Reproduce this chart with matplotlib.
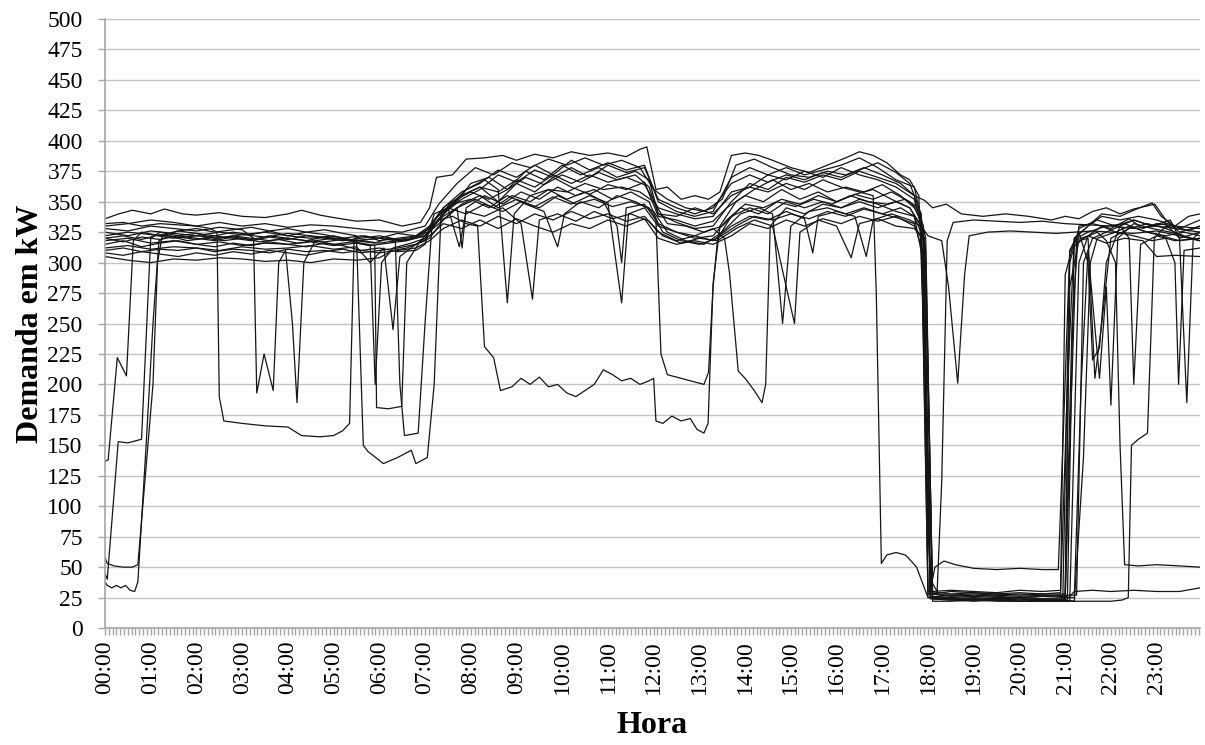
import numpy as np
import matplotlib
matplotlib.use("Agg")
import matplotlib.pyplot as plt
from matplotlib.ticker import MultipleLocator

# demand curves (hour, kW), one list per day
s01 = [(0, 336), (0.3, 340), (0.6, 343), (1, 340), (1.3, 344), (1.7, 340), (2, 339), (2.5, 341), (3, 338),
       (3.5, 337), (4, 340), (4.3, 343), (4.7, 339), (5, 337), (5.5, 334), (6, 335), (6.5, 330), (6.9, 333),
       (7.1, 345), (7.25, 370), (7.6, 372), (7.9, 385), (8.3, 386), (8.7, 388), (9, 384), (9.4, 389), (9.8, 386),
       (10.2, 391), (10.6, 388), (11, 390), (11.4, 387), (11.7, 393), (11.85, 395), (12.05, 360), (12.3, 362),
       (12.6, 352), (12.9, 355), (13.2, 352), (13.45, 358), (13.7, 388), (14, 390), (14.3, 388), (14.6, 384),
       (15, 378), (15.4, 374), (15.8, 380), (16.2, 386), (16.5, 391), (16.8, 388), (17.1, 382), (17.4, 372),
       (17.6, 368), (17.8, 355), (17.95, 200), (18.1, 28), (18.5, 30), (19, 29), (19.5, 28), (20, 29),
       (20.5, 28), (20.9, 29), (21.05, 200), (21.2, 320), (21.5, 330), (21.8, 340), (22.2, 338), (22.5, 343),
       (22.9, 349), (23.1, 338), (23.4, 330), (23.7, 338), (23.95, 340)]
s02 = [(0, 332), (0.4, 333), (0.8, 330), (1.2, 332), (1.6, 331), (2, 330), (2.3, 328), (2.45, 325), (2.5, 190),
       (2.6, 170), (3, 168), (3.5, 166), (4, 165), (4.3, 158), (4.7, 157), (5, 158), (5.2, 162), (5.35, 168),
       (5.45, 320), (5.7, 322), (6, 318), (6.4, 320), (6.8, 322), (7.1, 330), (7.4, 345), (7.8, 355), (8.2, 362),
       (8.6, 350), (9, 365), (9.4, 358), (9.8, 370), (10.2, 362), (10.6, 356), (11, 364), (11.4, 360),
       (11.8, 366), (12.1, 338), (12.5, 335), (12.9, 330), (13.3, 334), (13.6, 345), (14, 355), (14.4, 350),
       (14.8, 360), (15.2, 352), (15.6, 358), (16, 350), (16.4, 356), (16.8, 360), (17.2, 352), (17.6, 345),
       (17.85, 330), (18.0, 80), (18.1, 25), (18.6, 24), (19, 23), (19.5, 24), (20, 23), (20.5, 24), (21.0, 23),
       (21.1, 150), (21.25, 320), (21.5, 325), (21.9, 330), (22.3, 332), (22.7, 326), (23.1, 322), (23.5, 318),
       (23.95, 320)]
s03 = [(0, 328), (0.5, 326), (1, 330), (1.5, 328), (2, 326), (2.5, 329), (3, 327), (3.25, 320), (3.32, 193),
       (3.48, 225), (3.68, 195), (3.8, 300), (3.95, 310), (4.1, 250), (4.2, 185), (4.35, 300), (4.6, 318),
       (5, 320), (5.5, 318), (5.9, 316), (6.2, 320), (6.6, 318), (7, 325), (7.3, 340), (7.7, 350), (8, 365),
       (8.4, 370), (8.8, 360), (9.2, 375), (9.6, 368), (10, 380), (10.4, 372), (10.8, 378), (11.2, 370),
       (11.6, 375), (11.9, 368), (12.1, 340), (12.5, 333), (12.9, 328), (13.3, 330), (13.7, 350), (14.1, 365),
       (14.5, 360), (14.9, 370), (15.3, 366), (15.7, 372), (16.1, 368), (16.5, 375), (16.9, 370), (17.3, 365),
       (17.7, 355), (17.9, 320), (18.05, 28), (18.5, 26), (19, 27), (19.5, 26), (20, 25), (20.5, 26),
       (20.95, 27), (21.1, 310), (21.3, 325), (21.5, 300), (21.6, 220), (21.75, 230), (21.9, 300), (22.2, 330),
       (22.5, 335), (22.9, 330), (23.2, 332), (23.5, 320), (23.95, 325)]
s04 = [(0, 137), (0.07, 138), (0.27, 222), (0.47, 207), (0.62, 318), (0.8, 325), (1.2, 322), (1.6, 326),
       (2, 324), (2.4, 322), (2.8, 325), (3.2, 323), (3.6, 326), (4, 322), (4.4, 325), (4.8, 323), (5.2, 320),
       (5.6, 322), (6, 320), (6.4, 324), (6.8, 322), (7.1, 328), (7.4, 338), (7.7, 345), (7.81, 312), (7.9, 345),
       (8.3, 355), (8.7, 348), (9.1, 358), (9.5, 352), (9.9, 362), (10.3, 355), (10.7, 360), (11.1, 352),
       (11.5, 358), (11.9, 350), (12.1, 332), (12.5, 325), (12.9, 320), (13.3, 322), (13.6, 335), (14, 348),
       (14.4, 345), (14.8, 352), (15.2, 348), (15.6, 355), (16, 350), (16.4, 356), (16.8, 352), (17.2, 358),
       (17.6, 350), (17.85, 340), (18.0, 30), (18.5, 28), (19, 29), (19.5, 28), (20, 27), (20.5, 28), (21, 28),
       (21.1, 280), (21.3, 318), (21.5, 320), (21.65, 205), (21.8, 250), (22, 320), (22.4, 328), (22.8, 332),
       (23.2, 328), (23.6, 322), (23.95, 318)]
s05 = [(0, 38), (0.05, 35), (0.15, 33), (0.25, 35), (0.35, 33), (0.45, 35), (0.55, 31), (0.65, 30), (0.72, 38),
       (0.9, 150), (1.05, 250), (1.18, 318), (1.4, 322), (1.8, 318), (2.2, 320), (2.6, 318), (3, 320),
       (3.4, 317), (3.8, 319), (4.2, 316), (4.6, 318), (5, 315), (5.4, 317), (5.8, 314), (6.2, 316), (6.6, 318),
       (7, 322), (7.3, 335), (7.6, 348), (8, 352), (8.4, 345), (8.8, 355), (9.2, 348), (9.6, 342), (9.9, 313),
       (10.05, 340), (10.4, 350), (10.8, 345), (11.2, 355), (11.6, 350), (12, 342), (12.3, 325), (12.7, 318),
       (13.1, 315), (13.5, 325), (13.9, 340), (14.3, 345), (14.6, 340), (14.82, 250), (15, 330), (15.4, 342),
       (15.8, 345), (16.2, 340), (16.6, 345), (17, 340), (17.4, 345), (17.7, 338), (17.9, 300), (18.05, 25),
       (18.5, 24), (19, 23), (19.5, 24), (20, 24), (20.5, 23), (21, 23), (21.2, 22), (21.4, 140), (21.55, 300),
       (21.7, 320), (22.1, 325), (22.5, 322), (22.9, 318), (23.2, 320), (23.4, 300), (23.48, 200), (23.6, 310),
       (23.95, 312)]
s06 = [(0, 58), (0.05, 53), (0.2, 51), (0.4, 50), (0.6, 50), (0.72, 52), (0.95, 155), (1.05, 200), (1.15, 300),
       (1.25, 322), (1.6, 326), (2, 328), (2.4, 325), (2.8, 327), (3.2, 329), (3.6, 326), (4, 328), (4.4, 325),
       (4.8, 327), (5.2, 324), (5.5, 322), (5.65, 150), (5.75, 145), (6.09, 135), (6.4, 140), (6.7, 146),
       (6.8, 135), (7.05, 140), (7.2, 200), (7.35, 340), (7.6, 350), (8, 358), (8.4, 352), (8.8, 360), (9.2, 370),
       (9.6, 364), (10, 372), (10.4, 366), (10.8, 374), (11.2, 368), (11.6, 372), (11.9, 362), (12.1, 340),
       (12.5, 338), (12.9, 345), (13.3, 340), (13.7, 355), (14.1, 362), (14.5, 372), (14.9, 368), (15.3, 375),
       (15.7, 370), (16.1, 378), (16.5, 372), (16.9, 368), (17.3, 362), (17.7, 352), (17.92, 320), (18.1, 25),
       (18.5, 24), (19, 25), (19.5, 24), (20, 25), (20.5, 24), (21, 24), (21.15, 250), (21.3, 330), (21.6, 332),
       (22, 328), (22.4, 336), (22.7, 328), (23, 332), (23.4, 330), (23.7, 326), (23.95, 330)]
s07 = [(0, 45), (0.05, 40), (0.29, 153), (0.5, 152), (0.8, 155), (1.0, 320), (1.2, 325), (1.6, 322), (2, 324),
       (2.4, 320), (2.8, 322), (3.2, 320), (3.6, 318), (4, 320), (4.4, 318), (4.8, 317), (5.2, 319), (5.6, 316),
       (5.9, 314), (5.94, 181), (6.2, 180), (6.49, 182), (6.6, 300), (6.9, 318), (7.2, 330), (7.5, 345),
       (7.9, 360), (8.3, 368), (8.6, 360), (8.8, 267), (8.95, 340), (9.3, 355), (9.7, 360), (10.1, 358),
       (10.5, 365), (10.9, 360), (11.3, 362), (11.7, 358), (12, 350), (12.3, 332), (12.7, 330), (13.1, 325),
       (13.5, 330), (13.9, 345), (14.3, 340), (14.7, 350), (15.1, 346), (15.5, 352), (15.9, 348), (16.3, 355),
       (16.7, 350), (17.1, 348), (17.5, 352), (17.8, 345), (17.95, 310), (18.1, 24), (18.5, 23), (19, 24),
       (19.5, 23), (20, 22), (20.5, 23), (21, 22), (21.1, 22), (21.3, 300), (21.5, 322), (21.8, 330),
       (22.1, 325), (22.4, 330), (22.8, 325), (23.2, 322), (23.6, 325), (23.95, 322)]
s08 = [(0, 305), (0.5, 302), (1, 300), (1.5, 303), (2, 302), (2.5, 304), (3, 303), (3.5, 301), (4, 302),
       (4.5, 300), (5, 303), (5.5, 302), (6, 304), (6.3, 310), (6.6, 312), (7, 318), (7.2, 335), (7.5, 345),
       (7.9, 340), (8.3, 348), (8.7, 342), (9.1, 350), (9.5, 345), (9.9, 355), (10.3, 348), (10.7, 352),
       (11.1, 346), (11.5, 350), (11.9, 345), (12.2, 325), (12.6, 318), (13, 315), (13.4, 320), (13.8, 330),
       (14.2, 338), (14.6, 335), (15, 340), (15.4, 336), (15.8, 342), (16.2, 338), (16.6, 344), (17, 340),
       (17.4, 336), (17.7, 332), (17.95, 300), (18.1, 30), (18.5, 31), (19, 30), (19.5, 29), (20, 31),
       (20.5, 30), (20.9, 31), (21.0, 290), (21.2, 318), (21.5, 322), (21.9, 316), (22.3, 320), (22.7, 318),
       (23, 305), (23.4, 306), (23.95, 305)]
s09 = [(0, 318), (0.5, 320), (1, 316), (1.5, 318), (2, 315), (2.5, 317), (3, 314), (3.5, 316), (4, 315),
       (4.5, 317), (5, 314), (5.5, 316), (5.8, 314), (5.91, 200), (6.05, 300), (6.3, 312), (6.7, 316), (7, 320),
       (7.3, 335), (7.6, 338), (7.9, 332), (8.15, 330), (8.3, 231), (8.5, 222), (8.65, 195), (8.9, 198),
       (9.1, 205), (9.3, 200), (9.5, 206), (9.7, 198), (9.9, 200), (10.1, 193), (10.3, 190), (10.5, 195),
       (10.7, 200), (10.9, 212), (11.1, 208), (11.3, 203), (11.5, 205), (11.7, 200), (11.9, 203), (12.0, 205),
       (12.05, 170), (12.2, 168), (12.4, 174), (12.6, 170), (12.8, 172), (12.95, 163), (13.1, 160),
       (13.19, 168), (13.3, 283), (13.45, 330), (13.8, 350), (14.2, 360), (14.6, 368), (15, 360), (15.4, 365),
       (15.8, 358), (16.2, 362), (16.6, 358), (17, 364), (17.4, 355), (17.7, 345), (17.9, 330), (18.0, 28),
       (18.5, 27), (19, 28), (19.5, 27), (20, 28), (20.5, 27), (21, 27), (21.25, 27), (21.4, 300), (21.6, 320),
       (21.9, 325), (22.2, 330), (22.4, 320), (22.5, 200), (22.65, 315), (23, 322), (23.4, 318), (23.95, 320)]
s10 = [(0, 322), (0.5, 325), (1, 323), (1.5, 320), (2, 322), (2.5, 320), (3, 323), (3.5, 321), (4, 324),
       (4.5, 322), (5, 320), (5.5, 318), (6, 320), (6.5, 318), (7, 322), (7.3, 332), (7.7, 345), (8.1, 352),
       (8.5, 345), (8.9, 355), (9.3, 350), (9.7, 360), (10.1, 352), (10.5, 358), (10.9, 350), (11.2, 330),
       (11.3, 300), (11.4, 345), (11.8, 348), (12.05, 335), (12.16, 225), (12.3, 208), (12.6, 205), (12.9, 202),
       (13.1, 200), (13.2, 210), (13.3, 280), (13.4, 320), (13.7, 338), (14.1, 345), (14.5, 340), (14.9, 350),
       (15.3, 345), (15.7, 350), (16.1, 345), (16.5, 352), (16.9, 348), (17.3, 342), (17.7, 338), (17.9, 320),
       (18.05, 26), (18.5, 25), (19, 26), (19.5, 25), (20, 25), (20.5, 26), (21, 25), (21.2, 25), (21.35, 200),
       (21.5, 310), (21.75, 205), (21.9, 280), (22.0, 183), (22.15, 320), (22.5, 332), (22.9, 328),
       (23.3, 325), (23.7, 320), (23.95, 318)]
s11 = [(0, 312), (0.5, 314), (1, 311), (1.5, 313), (2, 312), (2.5, 310), (3, 313), (3.5, 311), (4, 312),
       (4.5, 314), (5, 311), (5.5, 313), (5.8, 300), (6.1, 312), (6.3, 245), (6.45, 305), (6.8, 315), (7.1, 320),
       (7.4, 335), (7.8, 348), (8.2, 355), (8.6, 345), (9, 352), (9.4, 346), (9.8, 354), (10.2, 348), (10.6, 355),
       (11, 349), (11.3, 267), (11.45, 340), (11.8, 345), (12.1, 330), (12.5, 325), (12.9, 322), (13.3, 328),
       (13.55, 320), (13.66, 291), (13.85, 211), (14.0, 205), (14.2, 195), (14.37, 185), (14.45, 200),
       (14.55, 330), (14.9, 345), (15.3, 340), (15.7, 348), (16.1, 345), (16.5, 350), (16.9, 345), (17.3, 350),
       (17.6, 345), (17.85, 330), (18.0, 25), (18.5, 24), (19, 24), (19.5, 23), (20, 24), (20.5, 23), (21, 23),
       (21.1, 300), (21.3, 328), (21.7, 335), (22.1, 330), (22.5, 335), (22.9, 330), (23.3, 335), (23.5, 320),
       (23.66, 185), (23.8, 320), (23.95, 325)]
s12 = [(0, 325), (0.5, 322), (1, 326), (1.5, 324), (2, 322), (2.5, 325), (3, 323), (3.5, 325), (4, 322),
       (4.5, 320), (5, 322), (5.5, 318), (6, 320), (6.35, 318), (6.45, 200), (6.55, 158), (6.85, 160),
       (7.0, 250), (7.15, 330), (7.4, 340), (7.8, 355), (8.2, 362), (8.6, 358), (9, 368), (9.4, 362), (9.8, 372),
       (10.2, 365), (10.6, 372), (11, 366), (11.4, 370), (11.8, 364), (12.1, 345), (12.5, 340), (12.9, 336),
       (13.3, 338), (13.7, 358), (14.1, 362), (14.5, 358), (14.9, 365), (15.3, 360), (15.7, 368), (16.1, 362),
       (16.5, 358), (16.8, 355), (16.87, 273), (16.98, 53), (17.1, 60), (17.3, 62), (17.5, 60), (17.56, 58),
       (17.75, 50), (18.0, 25), (18.5, 27), (19, 26), (19.5, 27), (20, 26), (20.5, 27), (20.9, 26), (21.05, 26),
       (21.2, 320), (21.5, 330), (21.8, 338), (22.2, 335), (22.6, 338), (23, 335), (23.4, 330), (23.95, 328)]
s13 = [(0, 330), (0.5, 332), (1, 335), (1.5, 333), (2, 330), (2.5, 333), (3, 330), (3.5, 332), (4, 329),
       (4.5, 331), (5, 330), (5.5, 328), (6, 326), (6.5, 325), (7, 330), (7.3, 348), (7.7, 365), (8.1, 378),
       (8.5, 372), (8.9, 382), (9.3, 378), (9.7, 385), (10.1, 380), (10.5, 386), (10.9, 380), (11.3, 384),
       (11.7, 378), (12, 360), (12.3, 352), (12.7, 345), (13.1, 342), (13.5, 352), (13.8, 380), (14.2, 385),
       (14.6, 378), (15, 372), (15.4, 370), (15.8, 375), (16.2, 372), (16.6, 378), (17, 372), (17.4, 365),
       (17.7, 355), (17.93, 351), (18.1, 345), (18.4, 348), (18.73, 340), (19.2, 338), (19.7, 340), (20.2, 338),
       (20.7, 335), (21, 338), (21.3, 336), (21.6, 342), (21.9, 345), (22.2, 340), (22.5, 344), (22.96, 348),
       (23.2, 335), (23.5, 325), (23.95, 330)]
s14 = [(0, 315), (0.4, 318), (0.8, 313), (1.2, 316), (1.6, 318), (2, 315), (2.4, 313), (2.8, 316), (3.2, 314),
       (3.6, 317), (4, 315), (4.4, 313), (4.8, 316), (5.2, 314), (5.6, 310), (6, 308), (6.4, 310), (6.8, 312),
       (7.1, 318), (7.4, 328), (7.8, 335), (8.2, 330), (8.6, 338), (9, 332), (9.4, 340), (9.8, 335), (10.2, 342),
       (10.6, 336), (11, 340), (11.4, 334), (11.8, 338), (12.1, 325), (12.5, 318), (12.9, 322), (13.3, 318),
       (13.7, 330), (14.1, 338), (14.5, 335), (14.9, 342), (15.3, 336), (15.48, 308), (15.6, 338), (16, 342),
       (16.4, 338), (16.65, 305), (16.8, 335), (17.2, 340), (17.6, 335), (17.85, 330), (18.0, 322), (18.3, 318),
       (18.45, 280), (18.65, 201), (18.8, 290), (18.9, 322), (19.3, 325), (19.8, 326), (20.3, 325), (20.8, 324),
       (21.2, 325), (21.6, 326), (22, 325), (22.5, 324), (23, 326), (23.5, 322), (23.95, 318)]
s15 = [(0, 310), (0.4, 312), (0.8, 309), (1.2, 311), (1.6, 310), (2, 312), (2.4, 309), (2.8, 311), (3.2, 310),
       (3.6, 308), (4, 311), (4.4, 309), (4.8, 310), (5.2, 308), (5.6, 310), (6, 312), (6.4, 309), (6.8, 310),
       (7.0, 315), (7.2, 340), (7.5, 345), (7.75, 313), (7.9, 342), (8.3, 338), (8.7, 345), (9.1, 332),
       (9.35, 270), (9.5, 335), (9.9, 340), (10.3, 334), (10.7, 342), (11.1, 336), (11.5, 340), (11.9, 334),
       (12.2, 322), (12.6, 316), (13, 320), (13.4, 318), (13.8, 328), (14.2, 335), (14.6, 330), (15.08, 250),
       (15.2, 325), (15.6, 335), (16, 330), (16.32, 304), (16.5, 332), (16.9, 336), (17.3, 330), (17.7, 328),
       (17.9, 320), (18.05, 40), (18.2, 30), (18.3, 120), (18.42, 318), (18.55, 333), (19, 335), (19.5, 334),
       (20, 333), (20.5, 334), (21, 332), (21.5, 331), (22, 330), (22.5, 328), (23, 330), (23.4, 328),
       (23.95, 325)]
s16 = [(0, 320), (0.4, 317), (0.8, 321), (1.2, 319), (1.6, 322), (2, 320), (2.4, 318), (2.8, 321), (3.2, 319),
       (3.6, 322), (4, 320), (4.4, 318), (4.8, 321), (5.2, 319), (5.6, 318), (6, 316), (6.4, 318), (6.8, 320),
       (7.1, 326), (7.4, 340), (7.8, 352), (8.2, 360), (8.6, 372), (9, 366), (9.4, 376), (9.8, 370), (10.2, 378),
       (10.6, 370), (11, 380), (11.4, 374), (11.8, 378), (12.1, 352), (12.5, 345), (12.9, 340), (13.3, 345),
       (13.7, 365), (14.1, 372), (14.5, 366), (14.9, 372), (15.3, 368), (15.7, 374), (16.1, 370), (16.5, 376),
       (16.9, 382), (17.3, 374), (17.6, 365), (17.85, 340), (18.05, 30), (18.15, 50), (18.35, 55), (18.6, 52),
       (19, 49), (19.5, 48), (20, 49), (20.5, 48), (20.85, 48), (20.95, 150), (21.1, 310), (21.4, 320),
       (21.7, 325), (21.9, 318), (22.1, 300), (22.2, 150), (22.3, 52), (22.6, 51), (23, 52), (23.5, 51),
       (23.95, 50)]
s17 = [(0, 308), (0.4, 306), (0.8, 309), (1.2, 307), (1.6, 305), (2, 308), (2.4, 306), (2.8, 309), (3.2, 307),
       (3.6, 310), (4, 308), (4.4, 306), (4.8, 309), (5.2, 311), (5.6, 308), (6, 310), (6.4, 312), (6.8, 315),
       (7.1, 322), (7.4, 332), (7.8, 328), (8.2, 335), (8.6, 328), (9, 336), (9.4, 330), (9.8, 325), (10.2, 332),
       (10.6, 328), (11, 335), (11.4, 330), (11.8, 336), (12.1, 320), (12.5, 315), (12.9, 318), (13.3, 315),
       (13.7, 322), (14.1, 332), (14.5, 328), (14.9, 335), (15.3, 330), (15.7, 336), (16.1, 332), (16.5, 338),
       (16.9, 334), (17.3, 338), (17.7, 330), (17.9, 318), (18.05, 24), (18.5, 23), (19, 22), (19.5, 23),
       (20, 22), (20.5, 22), (21, 22), (21.2, 30), (21.6, 31), (22, 30), (22.5, 31), (23, 30), (23.5, 30),
       (23.8, 32), (23.95, 33)]
s18 = [(0, 320), (0.4, 322), (0.8, 319), (1.2, 323), (1.6, 321), (2, 319), (2.4, 322), (2.8, 320), (3.2, 318),
       (3.6, 321), (4, 319), (4.4, 322), (4.8, 320), (5.2, 318), (5.6, 320), (6, 322), (6.4, 319), (6.8, 321),
       (7.1, 328), (7.4, 345), (7.8, 358), (8.2, 365), (8.6, 376), (9, 370), (9.4, 380), (9.8, 372), (10.2, 384),
       (10.6, 376), (11, 382), (11.4, 376), (11.8, 380), (12.1, 350), (12.5, 342), (12.9, 338), (13.3, 342),
       (13.7, 370), (14.1, 378), (14.5, 372), (14.9, 378), (15.3, 372), (15.7, 376), (16.1, 380), (16.5, 386),
       (16.9, 378), (17.3, 368), (17.7, 362), (17.95, 320), (18.1, 22), (18.5, 22), (19, 23), (19.5, 22),
       (20, 22), (20.5, 22), (21, 22), (21.5, 22), (22, 22), (22.25, 23), (22.38, 25), (22.45, 150), (22.6, 155),
       (22.8, 160), (22.95, 320), (23.2, 330), (23.5, 328), (23.95, 335)]

days = [s01, s02, s03, s04, s05, s06, s07, s08, s09, s10, s11, s12, s13, s14, s15, s16, s17, s18]
hour_labels = ["%02d:00" % h for h in range(24)]

plt.rcParams['font.family'] = ['Liberation Serif', 'DejaVu Serif']

fig = plt.figure(figsize=(12.05, 7.45), dpi=100)
ax = fig.add_axes([0.0871, 0.157, 0.9088, 0.8175])

for d in days:
    h, v = zip(*d)
    ax.plot(h, v, color='#151515', lw=0.9, solid_joinstyle='round')

ax.set_xlim(0, 23.95)
ax.set_ylim(0, 500)
ax.yaxis.set_major_locator(MultipleLocator(25))
ax.set_xticks(range(24))
ax.set_xticklabels(hour_labels, rotation=90)
ax.xaxis.set_minor_locator(MultipleLocator(1 / 12))
ax.grid(axis='y', color='#c4c4c4', lw=1.0)
ax.set_axisbelow(True)

for sp in ['top', 'right']:
    ax.spines[sp].set_visible(False)
for sp in ['left', 'bottom']:
    ax.spines[sp].set_color('#a6a6a6')
    ax.spines[sp].set_linewidth(1.2)

ax.tick_params(axis='both', which='both', color='#a6a6a6', labelsize=17, length=5, width=1)
ax.tick_params(axis='x', which='minor', length=5)
ax.tick_params(axis='x', pad=4)
ax.tick_params(axis='y', pad=11)

ax.set_ylabel('Demanda em kW', fontsize=23, fontweight='bold', labelpad=2)
ax.set_xlabel('Hora', fontsize=23, fontweight='bold', labelpad=12)

plt.savefig('out.png', dpi=100)
